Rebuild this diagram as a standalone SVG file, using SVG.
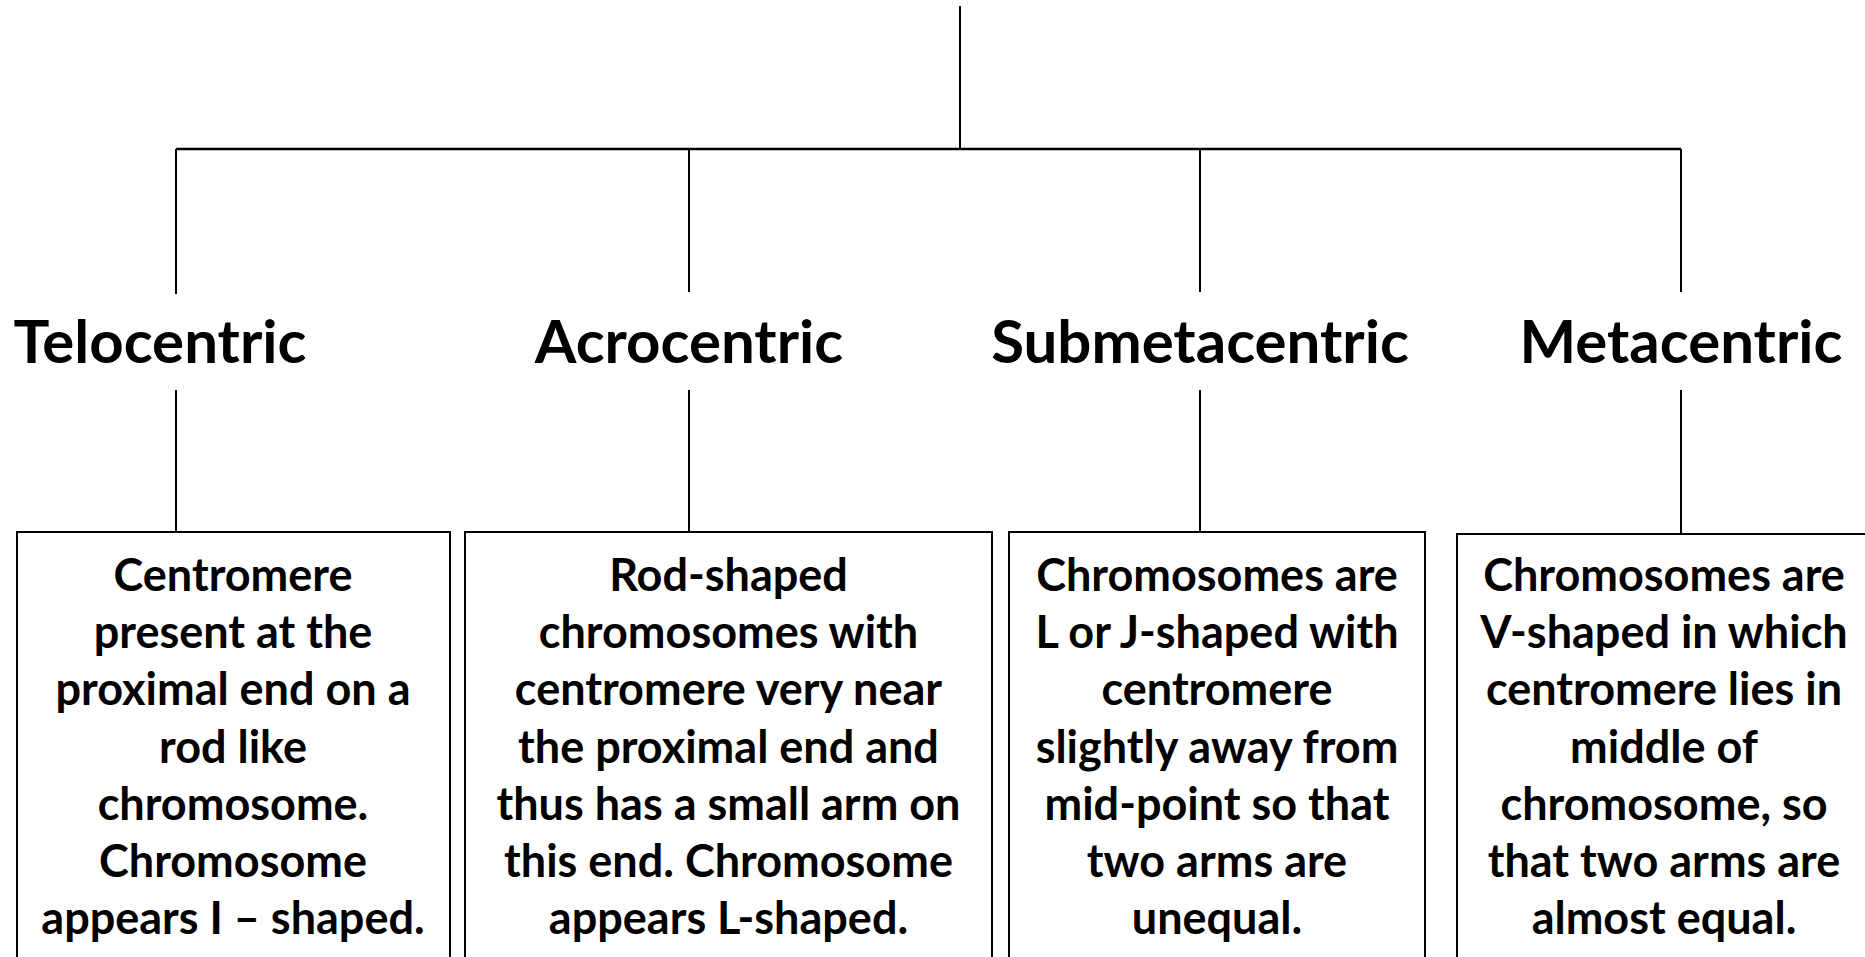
<svg xmlns="http://www.w3.org/2000/svg" width="1865" height="957" viewBox="0 0 1865 957">
<style>
.ln{stroke:#000;stroke-width:2;fill:none}
.bx{stroke:#000;stroke-width:2;fill:#fff}
.lbl{font-family:Lato,"Open Sans",sans-serif;font-weight:bold;font-size:60px;text-anchor:middle;fill:#000}
.tx{font-family:Lato,"Open Sans",sans-serif;font-weight:bold;font-size:45px;text-anchor:middle;fill:#000}
</style>
<rect width="1865" height="957" fill="#fff"/>
<g id="connectors">
<line class="ln" x1="960" y1="6" x2="960" y2="149"/>
<line class="ln" x1="176" y1="149" x2="1681" y2="149" style="stroke-width:2.5"/>
<line class="ln" x1="176" y1="149" x2="176" y2="294"/>
<line class="ln" x1="689" y1="149" x2="689" y2="292"/>
<line class="ln" x1="1200" y1="149" x2="1200" y2="292"/>
<line class="ln" x1="1681" y1="149" x2="1681" y2="292"/>
<line class="ln" x1="176" y1="390" x2="176" y2="532"/>
<line class="ln" x1="689" y1="390" x2="689" y2="532"/>
<line class="ln" x1="1200" y1="390" x2="1200" y2="532"/>
<line class="ln" x1="1681" y1="390" x2="1681" y2="534"/>
</g>
<g id="label-telocentric"><text class="lbl" x="160" y="363">Telocentric</text></g>
<g id="label-acrocentric"><text class="lbl" x="689" y="363">Acrocentric</text></g>
<g id="label-submetacentric"><text class="lbl" x="1200" y="363">Submetacentric</text></g>
<g id="label-metacentric"><text class="lbl" x="1681" y="363">Metacentric</text></g>
<g id="box-telocentric">
<rect class="bx" x="17" y="532" width="433" height="440"/>
<text class="tx" x="233" y="591">Centromere</text>
<text class="tx" x="233" y="648">present at the</text>
<text class="tx" x="233" y="705">proximal end on a</text>
<text class="tx" x="233" y="763">rod like</text>
<text class="tx" x="233" y="820">chromosome.</text>
<text class="tx" x="233" y="877">Chromosome</text>
<text class="tx" x="233" y="934">appears I – shaped.</text>
</g>
<g id="box-acrocentric">
<rect class="bx" x="465" y="532" width="527" height="440"/>
<text class="tx" x="728.5" y="591">Rod-shaped</text>
<text class="tx" x="728.5" y="648">chromosomes with</text>
<text class="tx" x="728.5" y="705">centromere very near</text>
<text class="tx" x="728.5" y="763">the proximal end and</text>
<text class="tx" x="728.5" y="820">thus has a small arm on</text>
<text class="tx" x="728.5" y="877">this end. Chromosome</text>
<text class="tx" x="728.5" y="934">appears L-shaped.</text>
</g>
<g id="box-submetacentric">
<rect class="bx" x="1009" y="532" width="416" height="440"/>
<text class="tx" x="1217" y="591">Chromosomes are</text>
<text class="tx" x="1217" y="648">L or J-shaped with</text>
<text class="tx" x="1217" y="705">centromere</text>
<text class="tx" x="1217" y="763">slightly away from</text>
<text class="tx" x="1217" y="820">mid-point so that</text>
<text class="tx" x="1217" y="877">two arms are</text>
<text class="tx" x="1217" y="934">unequal.</text>
</g>
<g id="box-metacentric">
<rect class="bx" x="1457" y="534" width="416" height="440"/>
<text class="tx" x="1664" y="591">Chromosomes are</text>
<text class="tx" x="1664" y="648">V-shaped in which</text>
<text class="tx" x="1664" y="705">centromere lies in</text>
<text class="tx" x="1664" y="763">middle of</text>
<text class="tx" x="1664" y="820">chromosome, so</text>
<text class="tx" x="1664" y="877">that two arms are</text>
<text class="tx" x="1664" y="934">almost equal.</text>
</g>
</svg>
